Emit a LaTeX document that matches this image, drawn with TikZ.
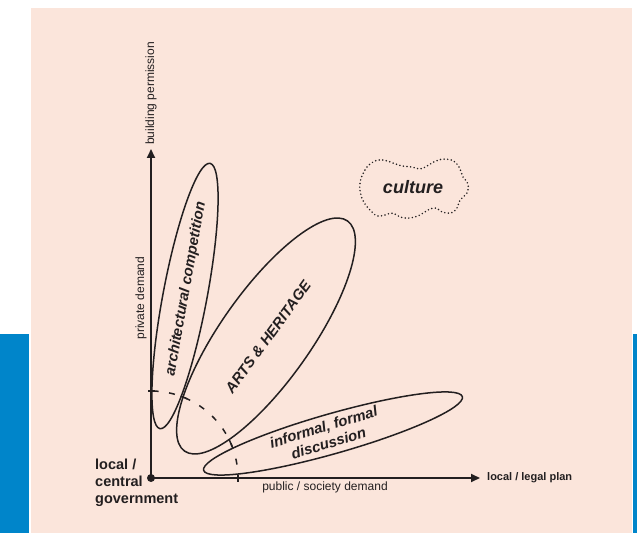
\documentclass[tikz,border=0pt]{standalone}
\usepackage{fontspec}
\setmainfont{Liberation Sans}
\usetikzlibrary{shapes.geometric,arrows.meta,calc}
\definecolor{panel}{RGB}{251,229,219}
\definecolor{band}{RGB}{0,133,202}
\definecolor{ink}{RGB}{35,31,32}

\begin{document}
\begin{tikzpicture}[x=1pt,y=1pt,
  axis/.style={draw=ink, line width=1.8pt, -{Triangle[length=9pt,width=8pt]}},
  loop/.style={draw=ink, line width=1.5pt, ellipse, inner sep=0pt},
  loopname/.style={text=ink, inner sep=0pt, font=\fontsize{14.8}{17}\selectfont\bfseries\itshape},
  axlabel/.style={text=ink, inner sep=0pt, font=\fontsize{12}{14}\selectfont},
  endlabel/.style={text=ink, inner sep=0pt, font=\fontsize{11}{13}\selectfont\bfseries},
  govlabel/.style={text=ink, inner sep=0pt, align=left, font=\fontsize{14.5}{17}\selectfont\bfseries},
  tick/.style={draw=ink, line width=1.5pt}
]
\useasboundingbox (0,0) rectangle (637,533);
% page background, side bands and the panel
\fill[white] (0,0) rectangle (637,533);
\fill[band] (0,0) rectangle (29,199);
\fill[band] (633,0) rectangle (637,199);
\fill[panel] (31,0) rectangle (632,525);

% axes
\coordinate (O) at (151,55);
\coordinate (ytip) at (151,384);
\coordinate (xtip) at (480,55);

% the three fields
\node[loop, minimum width=270pt, minimum height=44pt, rotate=79.3] (arch) at (185,237) {};
\node[loop, minimum width=282pt, minimum height=90pt, rotate=54.7] (arts) at (266,197) {};
\node[loop, minimum width=269pt, minimum height=40pt, rotate=15.9] (talk) at (333,99.5) {};

\draw[axis] (O) -- (ytip);
\draw[axis] (O) -- (xtip);
\fill[ink] (O) circle (4pt);

% dashed quarter circle round the origin with its marks
\draw[ink, line width=1.5pt, dash pattern=on 6pt off 10.5pt, dash phase=3pt]
  ($(O)+(87,0)$) arc[start angle=0, end angle=90, radius=87pt];
\foreach \a in {0,23.6,67.8,90}
  \draw[tick] ($(O)+(\a:87pt)$) ++(\a+90:-3.5pt) -- ++(\a+90:7pt);

% culture cloud
\draw[ink, line width=1.7pt, line cap=round, dash pattern=on 0pt off 3.6pt]
  plot[smooth cycle, tension=0.7] coordinates {
  (360,350) (365,363) (373,371) (383,373) (393,370) (402,367) (412,366)
  (420,364) (427,367) (436,372) (446,374) (455,371) (460,364) (463,356)
  (468,349) (467,340) (460,333) (457,325) (451,320) (442,321) (436,325)
  (428,323) (420,318) (410,315) (400,316) (393,320) (385,318) (377,317)
  (371,322) (365,329) (361,338)};
\node[text=ink, inner sep=0pt, font=\fontsize{18}{20}\selectfont\bfseries\itshape] (culture) at (413,346) {culture};

% field names
\node[loopname, rotate=80] (archname) at (186,244) {architectural competition};
\node[loopname, rotate=54] (artsname) at (268,196) {ARTS \& HERITAGE};
\node[loopname, rotate=17, align=center] (talkname) at (326,98) {informal, formal\\discussion};

% axis labels
\node[axlabel, rotate=90, anchor=west] (ylab) at ([yshift=4pt]ytip) {building permission};
\node[axlabel, rotate=90] (ymid) at (141,235) {private demand};
\node[axlabel] (xmid) at (325,46) {public / society demand};
\node[endlabel, anchor=west] (xlab) at ([xshift=7pt]xtip) {local / legal plan};
\node[govlabel, anchor=west] (gov) at (95,50) {local /\\central\\government};
\end{tikzpicture}
\end{document}
